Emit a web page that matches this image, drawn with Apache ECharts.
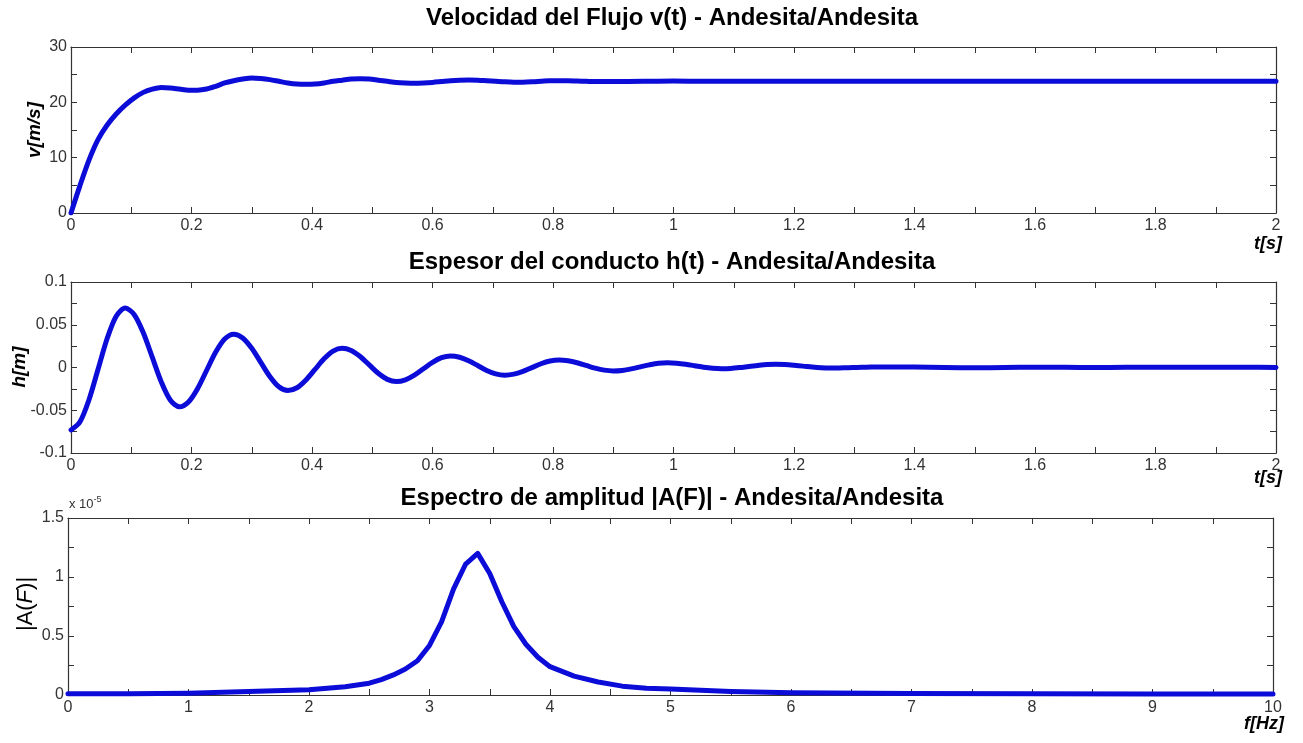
<!DOCTYPE html>
<html>
<head>
<meta charset="utf-8">
<script src="https://cdn.jsdelivr.net/npm/echarts@6/dist/echarts.min.js"></script>
<style>
  html, body { margin: 0; padding: 0; background: #fff; }
  #chart { width: 1303px; height: 743px; }
</style>
</head>
<body>
<div id="chart"></div>
<script>
// Flow velocity v(t) [m/s]
const tV = [0, 0.015, 0.03, 0.045, 0.06, 0.075, 0.09, 0.105, 0.12, 0.135, 0.15, 0.165, 0.18, 0.195, 0.21,
  0.225, 0.24, 0.255, 0.27, 0.285, 0.30, 0.315, 0.33, 0.345, 0.36, 0.375, 0.39, 0.405, 0.42, 0.435, 0.45,
  0.465, 0.48, 0.495, 0.51, 0.525, 0.54, 0.555, 0.57, 0.585, 0.60, 0.615, 0.63, 0.645, 0.66, 0.675, 0.69,
  0.705, 0.72, 0.735, 0.75, 0.765, 0.78, 0.795, 0.81, 0.825, 0.84, 0.855, 0.87, 0.885, 0.90, 0.95, 1.00,
  1.05, 1.10, 1.20, 1.30, 1.40, 1.50, 1.60, 1.70, 1.80, 1.90, 2.00];
const vVals = [0, 5.0, 9.6, 13.3, 15.9, 17.9, 19.5, 20.8, 21.8, 22.4, 22.7, 22.6, 22.4, 22.2, 22.2,
  22.4, 22.9, 23.5, 23.9, 24.2, 24.4, 24.3, 24.1, 23.8, 23.5, 23.3, 23.25, 23.3, 23.5, 23.8, 24.0,
  24.2, 24.25, 24.2, 24.0, 23.8, 23.6, 23.5, 23.45, 23.5, 23.6, 23.75, 23.9, 24.0, 24.05, 24.0, 23.9,
  23.8, 23.7, 23.65, 23.65, 23.7, 23.8, 23.9, 23.9, 23.9, 23.85, 23.8, 23.75, 23.75, 23.75, 23.8, 23.85,
  23.8, 23.8, 23.8, 23.8, 23.8, 23.8, 23.8, 23.8, 23.8, 23.8, 23.8];

// Conduit thickness h(t) [m]
const tH = [0, 0.015, 0.03, 0.045, 0.06, 0.075, 0.09, 0.105, 0.12, 0.135, 0.15, 0.165, 0.18, 0.195, 0.21,
  0.225, 0.24, 0.255, 0.27, 0.285, 0.30, 0.315, 0.33, 0.345, 0.36, 0.375, 0.39, 0.405, 0.42, 0.435, 0.45,
  0.465, 0.48, 0.495, 0.51, 0.525, 0.54, 0.555, 0.57, 0.585, 0.60, 0.615, 0.63, 0.645, 0.66, 0.675, 0.69,
  0.705, 0.72, 0.735, 0.75, 0.765, 0.78, 0.795, 0.81, 0.825, 0.84, 0.855, 0.87, 0.885, 0.90, 0.915, 0.93,
  0.945, 0.96, 0.975, 0.99, 1.005, 1.02, 1.035, 1.05, 1.065, 1.08, 1.095, 1.11, 1.125, 1.14, 1.155, 1.17,
  1.185, 1.20, 1.215, 1.23, 1.245, 1.26, 1.275, 1.29, 1.305, 1.32, 1.335, 1.35, 1.40, 1.45, 1.50, 1.55,
  1.60, 1.65, 1.70, 1.75, 1.80, 1.85, 1.90, 1.95, 2.00];
const hVals = [-0.073, -0.0634, -0.0374, -0.0018, 0.0339, 0.0600, 0.0695, 0.0618, 0.0406, 0.0118, -0.0171,
  -0.0383, -0.046, -0.0403, -0.0248, -0.0035, 0.0178, 0.0333, 0.039, 0.0346, 0.0225, 0.006, -0.0105, -0.0226,
  -0.027, -0.0237, -0.0146, -0.0023, 0.0101, 0.0192, 0.0225, 0.0199, 0.0128, 0.003, -0.0068, -0.0139, -0.0165,
  -0.0145, -0.009, -0.0015, 0.006, 0.0115, 0.0135, 0.012, 0.0079, 0.0023, -0.0034, -0.0075, -0.009, -0.0078,
  -0.0046, -0.0001, 0.0044, 0.0076, 0.0088, 0.0079, 0.0056, 0.0024, -0.0008, -0.0031, -0.004, -0.0034, -0.0016,
  0.0008, 0.0031, 0.0049, 0.0055, 0.005, 0.0038, 0.0021, 0.0003, -0.0009, -0.0014, -0.0011, -0.0001, 0.0012,
  0.0024, 0.0034, 0.0037, 0.0034, 0.0026, 0.0016, 0.0005, -0.0003, -0.0006, -0.0005, -0.0002, 0.0001, 0.0004,
  0.0006, 0.0007, 0.0005, 0.0, -0.0003, 0.0, 0.0003, 0.0002, 0.0, 0.0002, 0.0003, 0.0002, 0.0003, 0.0002, 0.0001];

// Amplitude spectrum |A(F)| (units of 1e-5)
const fA = [0, 0.5, 1.0, 1.5, 2.0, 2.3, 2.5, 2.6, 2.7, 2.8, 2.9, 3.0, 3.1, 3.2, 3.3, 3.4, 3.5, 3.6, 3.7, 3.8,
  3.9, 4.0, 4.2, 4.4, 4.6, 4.8, 5.0, 5.5, 6.0, 7.0, 8.0, 9.0, 10.0];
const aVals = [0.01, 0.01, 0.015, 0.03, 0.045, 0.07, 0.10, 0.13, 0.17, 0.22, 0.29, 0.42, 0.62, 0.90, 1.11,
  1.20, 1.03, 0.79, 0.58, 0.43, 0.32, 0.24, 0.16, 0.11, 0.075, 0.058, 0.05, 0.03, 0.02, 0.012, 0.01, 0.008, 0.008];

// Axis settings: [min, max, tick step, labelled step]
const xTime = [0, 2, 0.1, 0.2];
const xFreq = [0, 10, 0.5, 1];
const yVel = [0, 30, 5, 10];
const yThick = [-0.1, 0.1, 0.025, 0.05];
const yAmp = [0, 1.5, 0.25, 0.5];

const titles = [
  'Velocidad del Flujo v(t) - Andesita/Andesita',
  'Espesor del conducto h(t) - Andesita/Andesita',
  'Espectro de amplitud |A(F)| - Andesita/Andesita'
];

const LINE_BLUE = '#0c0cd8';
const AXIS_COLOR = '#333';
const FONT = 'Liberation Sans, Arial, sans-serif';

function pairs(xs, ys) { return xs.map((x, i) => [x, ys[i]]); }

function labelFormatter(step) {
  return function (v) {
    const r = v / step;
    if (Math.abs(r - Math.round(r)) > 1e-6) return '';
    return String(+v.toFixed(3));
  };
}

function makeAxis(cfg, gridIndex, position, showLabel) {
  const vertical = position === 'left' || position === 'right';
  return {
    type: 'value',
    gridIndex: gridIndex,
    position: position,
    min: cfg[0], max: cfg[1], interval: cfg[2],
    axisLine: { show: true, onZero: false, lineStyle: { color: AXIS_COLOR, width: 1.2 } },
    axisTick: { show: true, inside: true, length: 6, lineStyle: { color: AXIS_COLOR, width: 1 } },
    splitLine: { show: false },
    axisLabel: {
      show: showLabel,
      formatter: labelFormatter(cfg[3]),
      color: '#333',
      fontFamily: FONT,
      fontSize: 16,
      margin: vertical ? 4 : 5,
      showMinLabel: true, showMaxLabel: true
    }
  };
}

const grids = [
  { left: 71, right: 27, top: 47, height: 166 },
  { left: 71, right: 27, top: 282, height: 171 },
  { left: 68, right: 30, top: 518, height: 177 }
];

const xCfgs = [xTime, xTime, xFreq];
const yCfgs = [yVel, yThick, yAmp];

const xAxes = [], yAxes = [];
for (let g = 0; g < 3; g++) {
  xAxes.push(makeAxis(xCfgs[g], g, 'bottom', true));
  xAxes.push(makeAxis(xCfgs[g], g, 'top', false));
  yAxes.push(makeAxis(yCfgs[g], g, 'left', true));
  yAxes.push(makeAxis(yCfgs[g], g, 'right', false));
}

function lineSeries(g, data, smooth) {
  return {
    type: 'line',
    xAxisIndex: g * 2,
    yAxisIndex: g * 2,
    data: data,
    showSymbol: false,
    smooth: smooth,
    lineStyle: { color: LINE_BLUE, width: 5, cap: 'round', join: 'round' },
    animation: false,
    silent: true
  };
}

const titleCenter = 672;
const titleTops = [6, 250, 486];

const axisName = (text, x, y, size, rotated) => ({
  type: 'text', x: x, y: y, rotation: rotated ? Math.PI / 2 : 0,
  style: { text: text, fontFamily: FONT, fontWeight: 'bold', fontStyle: 'italic', fontSize: size,
    fill: '#000', textAlign: 'center', textVerticalAlign: 'middle' }
});

const option = {
  backgroundColor: '#ffffff',
  animation: false,
  title: titles.map((t, i) => ({
    text: t,
    left: titleCenter,
    top: titleTops[i],
    textAlign: 'center',
    padding: 0,
    textStyle: { fontFamily: FONT, fontWeight: 'bold', fontSize: 24, color: '#000' }
  })),
  grid: grids,
  xAxis: xAxes,
  yAxis: yAxes,
  series: [
    lineSeries(0, pairs(tV, vVals), 0.3),
    lineSeries(1, pairs(tH, hVals), 0.3),
    lineSeries(2, pairs(fA, aVals), false)
  ],
  graphic: [
    axisName('v[m/s]', 35, 130, 19, true),
    axisName('h[m]', 20, 367, 19, true),
    { type: 'text', x: 26, y: 604, rotation: Math.PI / 2,
      style: { text: '{n||A(}{i|F}{n|)|}', textAlign: 'center', textVerticalAlign: 'middle',
        rich: { n: { fontSize: 22, fontFamily: FONT, fill: '#000' },
                i: { fontSize: 22, fontFamily: FONT, fontStyle: 'italic', fill: '#000' } } } },
    axisName('t[s]', 1268, 244, 18, false),
    axisName('t[s]', 1268, 478, 18, false),
    axisName('f[Hz]', 1264, 724, 18, false),
    { type: 'text', x: 69, y: 504,
      style: { text: '{b|x 10}{s|-5}', textVerticalAlign: 'middle',
        rich: { b: { fontSize: 13, fontFamily: FONT, fill: '#333' },
                s: { fontSize: 9, fontFamily: FONT, fill: '#333', verticalAlign: 'top', padding: [0, 0, 8, 0] } } } }
  ]
};

const chart = echarts.init(document.getElementById('chart'), null, { renderer: 'canvas' });
chart.setOption(option);
</script>
</body>
</html>
